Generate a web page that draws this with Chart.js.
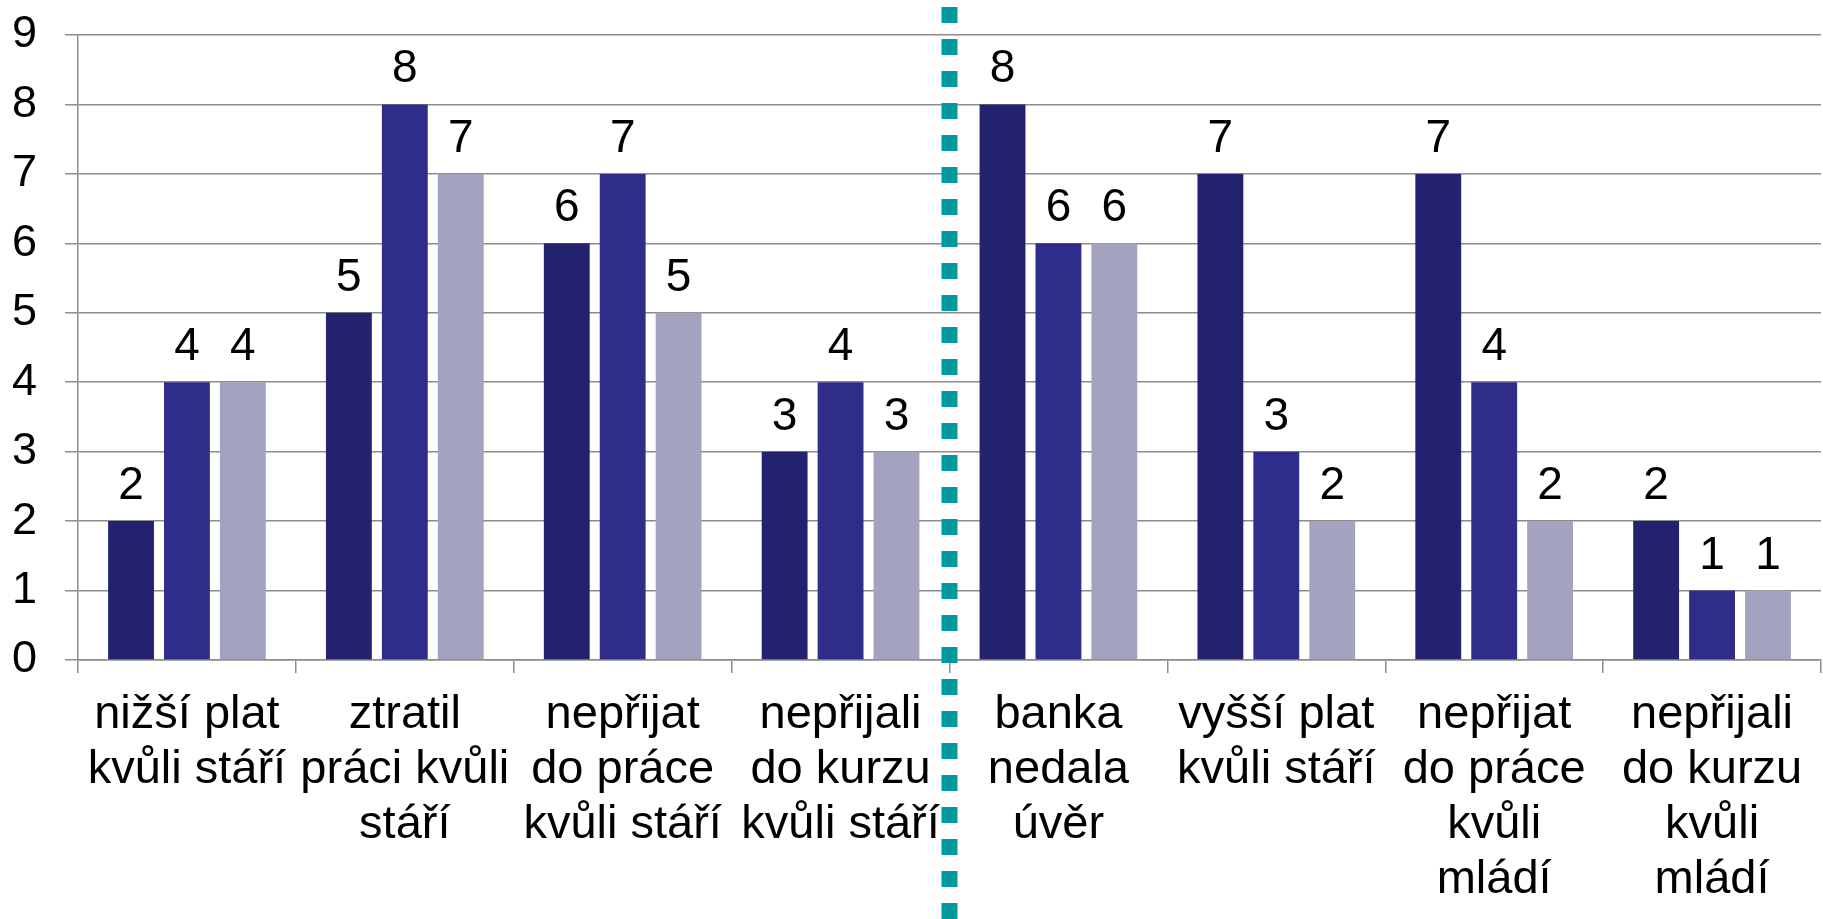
<!DOCTYPE html>
<html>
<head>
<meta charset="utf-8">
<script src="https://cdn.jsdelivr.net/npm/chart.js@4/dist/chart.umd.min.js"></script>
<style>
  html, body { margin: 0; padding: 0; background: #fff; }
  #obal { width: 1823px; height: 919px; }
</style>
</head>
<body>
<div id="obal"><canvas id="graf"></canvas></div>
<script>
const kategorie = [
    ['nižší plat', 'kvůli stáří'],
    ['ztratil', 'práci kvůli', 'stáří'],
    ['nepřijat', 'do práce', 'kvůli stáří'],
    ['nepřijali', 'do kurzu', 'kvůli stáří'],
    ['banka', 'nedala', 'úvěr'],
    ['vyšší plat', 'kvůli stáří'],
    ['nepřijat', 'do práce', 'kvůli', 'mládí'],
    ['nepřijali', 'do kurzu', 'kvůli', 'mládí']
];
const rada1 = [2, 5, 6, 3, 8, 7, 7, 2];
const rada2 = [4, 8, 7, 4, 6, 3, 4, 1];
const rada3 = [4, 7, 5, 3, 6, 2, 2, 1];
const osaY = [0, 1, 2, 3, 4, 5, 6, 7, 8, 9];

const pismo = '"Liberation Sans", Arial, sans-serif';

// popisky hodnot nad sloupci
const popiskyHodnot = {
    id: 'popiskyHodnot',
    afterDatasetsDraw(chart) {
        const ctx = chart.ctx;
        ctx.save();
        ctx.font = '46px ' + pismo;
        ctx.fillStyle = '#000';
        ctx.textAlign = 'center';
        ctx.textBaseline = 'alphabetic';
        chart.data.datasets.forEach((ds, i) => {
            chart.getDatasetMeta(i).data.forEach((bar, j) => {
                ctx.fillText(ds.data[j], bar.x, bar.y - 22);
            });
        });
        ctx.restore();
    }
};

// tyrkysova teckovana cara mezi staří a mládí
const delici = {
    id: 'delici',
    afterDraw(chart) {
        const x = chart.scales.x;
        const px = (x.getPixelForValue(3) + x.getPixelForValue(4)) / 2;
        const ctx = chart.ctx;
        ctx.save();
        ctx.strokeStyle = '#00999A';
        ctx.lineWidth = 16;
        ctx.setLineDash([16, 16]);
        ctx.beginPath();
        ctx.moveTo(px, 7);
        ctx.lineTo(px, chart.height);
        ctx.stroke();
        ctx.restore();
    }
};

new Chart(document.getElementById('graf'), {
    type: 'bar',
    data: {
        labels: kategorie,
        datasets: [
            { label: 'Řada 1', data: rada1, backgroundColor: '#24226E' },
            { label: 'Řada 2', data: rada2, backgroundColor: '#2E2E8A' },
            { label: 'Řada 3', data: rada3, backgroundColor: '#A3A3BF' }
        ]
    },
    options: {
        responsive: true,
        maintainAspectRatio: false,
        animation: false,
        categoryPercentage: 0.77,
        barPercentage: 0.82,
        layout: { padding: { top: 35, right: 2, left: 0, bottom: 0 } },
        plugins: {
            legend: { display: false },
            tooltip: { enabled: false }
        },
        scales: {
            x: {
                grid: {
                    offset: true,
                    drawOnChartArea: false,
                    color: '#8c8c8c',
                    lineWidth: 1.5,
                    tickLength: 13
                },
                border: { color: '#8c8c8c', width: 1.5 },
                ticks: {
                    color: '#000',
                    font: { family: pismo, size: 47, lineHeight: 1.17 },
                    padding: 15,
                    maxRotation: 0,
                    autoSkip: false
                },
                afterFit(scale) { scale.height = 259; }
            },
            y: {
                min: 0,
                max: 9,
                afterBuildTicks(scale) { scale.ticks = osaY.map(v => ({ value: v })); },
                grid: {
                    color: '#8c8c8c',
                    lineWidth: 1.5,
                    tickLength: 13
                },
                border: { color: '#8c8c8c', width: 1.5 },
                ticks: {
                    color: '#000',
                    font: { family: pismo, size: 45 },
                    padding: 28
                },
                afterFit(scale) {
                    scale.width = 78;
                    scale.paddingTop = 0;
                    scale.paddingBottom = 0;
                }
            }
        }
    },
    plugins: [popiskyHodnot, delici]
});
</script>
</body>
</html>
